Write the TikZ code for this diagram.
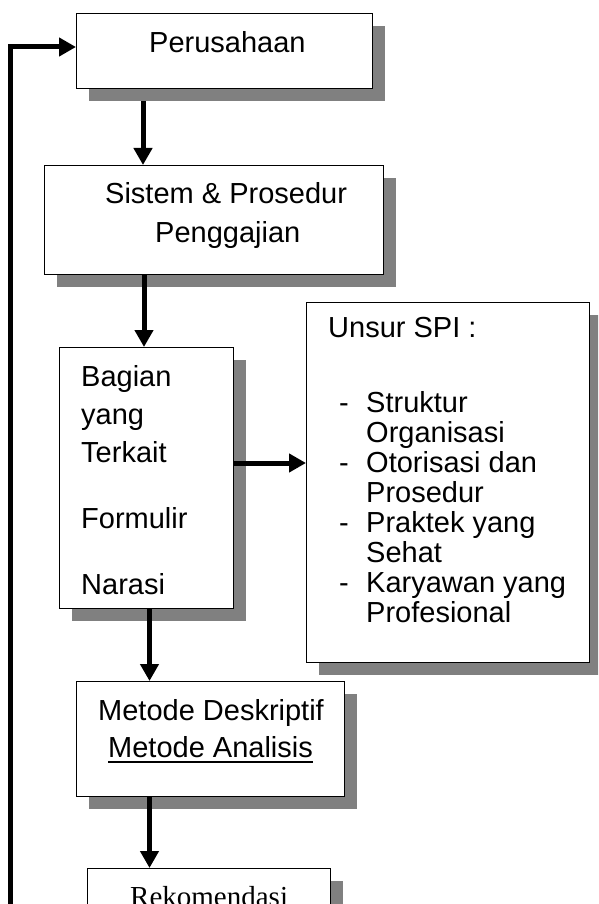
\documentclass[tikz,border=0pt]{standalone}
\usepackage{fontspec}
\setmainfont{Liberation Sans}
\newfontfamily\rekfont{Liberation Serif}
\usetikzlibrary{arrows.meta,shadows,calc}
\begin{document}
\begin{tikzpicture}[x=1pt,y=-1pt,
  box/.style={draw=black, line width=1.3pt, fill=white, rectangle, inner sep=0pt, anchor=north west,
    drop shadow={shadow xshift=12pt, shadow yshift=-12pt, fill=gray, draw=none, opacity=1}},
  txt/.style={inner sep=0pt, anchor=base west, font=\fontsize{29}{30}\selectfont},
  arr/.style={line width=5pt, -{Triangle[width=18pt,length=17pt]}, line join=miter}]
\useasboundingbox (0,0) rectangle (598,904);
\clip (0,0) rectangle (598,904);

% boxes
\node[box, minimum width=296pt, minimum height=75pt] (per) at (76,13) {};
\node[box, minimum width=339pt, minimum height=109pt] (sis) at (44,165) {};
\node[box, minimum width=174pt, minimum height=261pt] (bag) at (59,347) {};
\node[box, minimum width=283pt, minimum height=360pt] (uns) at (306,302) {};
\node[box, minimum width=268pt, minimum height=115pt] (met) at (76,681) {};
\node[box, minimum width=243pt, minimum height=100pt] (rek) at (87,868) {};

% texts
\node[txt] (t1) at (149,53) {Perusahaan};
\node[txt] (t2) at (105,203) {Sistem \& Prosedur};
\node[txt] (t3) at (155,242) {Penggajian};
\node[txt] (t4) at (81,386) {Bagian};
\node[txt] (t5) at (81,424) {yang};
\node[txt] (t6) at (81,462) {Terkait};
\node[txt] (t7) at (81,528) {Formulir};
\node[txt] (t8) at (81,594) {Narasi};
\node[txt] (u0) at (328,337) {Unsur SPI :};
\node[txt] (d1) at (339,412) {-};
\node[txt] (u1) at (366,412) {Struktur};
\node[txt] (u2) at (366,442) {Organisasi};
\node[txt] (d2) at (339,472) {-};
\node[txt] (u3) at (366,472) {Otorisasi dan};
\node[txt] (u4) at (366,502) {Prosedur};
\node[txt] (d3) at (339,532) {-};
\node[txt] (u5) at (366,532) {Praktek yang};
\node[txt] (u6) at (366,562) {Sehat};
\node[txt] (d4) at (339,592) {-};
\node[txt] (u7) at (366,592) {Karyawan yang};
\node[txt] (u8) at (366,622) {Profesional};
\node[txt] (m1) at (98,720) {Metode Deskriptif};
\node[txt] (m2) at (108,757) {Metode Analisis};
\draw[line width=1.5pt] ($(m2.base west)+(0,5)$) -- ($(m2.base east)+(0,5)$);
\node[txt, font=\rekfont\fontsize{29}{30}\selectfont] (r1) at (130,906) {Rekomendasi};

% connectors
\coordinate (xa) at (143,0);
\coordinate (xb) at (144,0);
\coordinate (xc) at (149.5,0);
\coordinate (ya) at (0,463);
\coordinate (fy) at (0,47);
\coordinate (fb) at (10,920);
\draw[arr] ($(per.south -| xa)+(0,12)$) -- (sis.north -| xa);
\draw[arr] (sis.south -| xb) -- (bag.north -| xb);
\draw[arr] (bag.east |- ya) -- (uns.west |- ya);
\draw[arr] (bag.south -| xc) -- (met.north -| xc);
\draw[arr] (met.south -| xc) -- (rek.north -| xc);
\draw[arr] (fb) |- (per.west |- fy);
\end{tikzpicture}
\end{document}
